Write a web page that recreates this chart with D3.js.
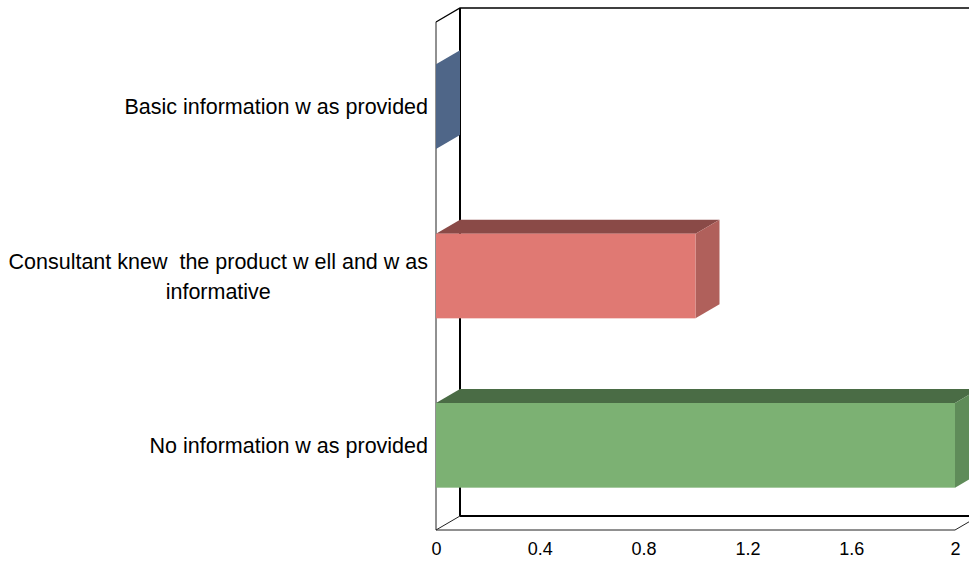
<!DOCTYPE html>
<html>
<head>
<meta charset="utf-8">
<script src="https://cdn.jsdelivr.net/npm/d3@7/dist/d3.min.js"></script>
<style>
  html, body { margin: 0; padding: 0; background: #ffffff; }
  svg { display: block; font-family: "Liberation Sans", Arial, sans-serif; }
  .cat text { white-space: pre; }
</style>
</head>
<body>
<svg id="chart" width="969" height="561"></svg>
<script>
// Survey answers and their counts
const categories = [
  ["Basic information w as provided"],
  ["Consultant knew  the product w ell and w as", "informative"],
  ["No information w as provided"]
];
const values = [0, 1, 2];
const tickValues = [0, 0.4, 0.8, 1.2, 1.6, 2];

// Face colours per bar: front, top, side
const colors = [
  { front: "#4F6688", top: "#3B4D67", side: "#4F6688" },
  { front: "#E07973", top: "#8A4A47", side: "#B0605B" },
  { front: "#7CB173", top: "#4A6C45", side: "#5F8C59" }
];

(function () {
  const svg = d3.select("#chart");
  const W = 969;

  // Front plane of the 3D box and the depth offset of the back wall
  const pl = 436, pr = 955, pt = 22, pb = 530;
  const dx = 24, dy = -14;

  const x = d3.scaleLinear().domain([0, 2]).range([pl, pr]);
  const keys = categories.map((c, i) => i);
  const y = d3.scaleBand().domain(keys).range([pt, pb])
    .paddingInner(0.5).paddingOuter(0.25);

  // Back wall and floor
  const walls = svg.append("g").attr("fill", "none");
  walls.append("path")
    .attr("d", `M${pl},${pt} L${pl + dx},${pt + dy} L${W + 5},${pt + dy}`)
    .attr("stroke", "#000").attr("stroke-width", 1.3);
  walls.append("line")
    .attr("x1", pl + dx).attr("y1", pt + dy).attr("x2", pl + dx).attr("y2", pb + dy)
    .attr("stroke", "#000").attr("stroke-width", 2);
  walls.append("line")
    .attr("x1", pl + dx).attr("y1", pb + dy).attr("x2", W + 5).attr("y2", pb + dy)
    .attr("stroke", "#000").attr("stroke-width", 2);
  walls.append("line")
    .attr("x1", pl).attr("y1", pt).attr("x2", pl).attr("y2", pb)
    .attr("stroke", "#222").attr("stroke-width", 1);
  walls.append("path")
    .attr("d", `M${pl + dx},${pb + dy} L${pl},${pb} L${pr},${pb} L${pr + dx},${pb + dy}`)
    .attr("stroke", "#222").attr("stroke-width", 1);

  // 3D bars
  const bars = svg.append("g");
  keys.forEach(i => {
    const v = values[i];
    const x0 = x(0), x1 = x(v);
    const y0 = y(i), y1 = y(i) + y.bandwidth();
    const c = colors[i];
    const g = bars.append("g");
    if (x1 > x0) {
      g.append("path")
        .attr("d", `M${x0},${y0} L${x0 + dx},${y0 + dy} L${x1 + dx},${y0 + dy} L${x1},${y0} Z`)
        .attr("fill", c.top);
      g.append("path")
        .attr("d", `M${x1},${y0} L${x1 + dx},${y0 + dy} L${x1 + dx},${y1 + dy} L${x1},${y1} Z`)
        .attr("fill", c.side);
      g.append("rect")
        .attr("x", x0).attr("y", y0).attr("width", x1 - x0).attr("height", y1 - y0)
        .attr("fill", c.front);
    } else {
      g.append("path")
        .attr("d", `M${x1},${y0} L${x1 + dx},${y0 + dy} L${x1 + dx},${y1 + dy} L${x1},${y1} Z`)
        .attr("fill", c.side);
    }
  });

  // Category labels
  const labels = svg.append("g").attr("class", "cat").attr("font-size", 21.5).attr("fill", "#000");
  keys.forEach(i => {
    const lines = categories[i];
    const cy = y(i) + y.bandwidth() / 2;
    const lh = 30;
    const t = labels.append("text").attr("text-anchor", "middle");
    const spans = lines.map((ln, j) =>
      t.append("tspan").text(ln)
        .attr("y", cy + (j - (lines.length - 1) / 2) * lh)
        .attr("dy", "0.35em"));
    const w = d3.max(spans, s => s.node().getComputedTextLength());
    spans.forEach(s => s.attr("x", 428 - w / 2));
  });

  // Value axis
  const axis = svg.append("g")
    .attr("transform", `translate(0,${pb})`)
    .attr("font-size", 18)
    .call(d3.axisBottom(x).tickValues(tickValues).tickFormat(d3.format("~g")).tickSize(0).tickPadding(12));
  axis.attr("font-size", 18).attr("font-family", "Liberation Sans, Arial, sans-serif");
  axis.select(".domain").remove();
  axis.selectAll("text").style("font-size", "18px").attr("fill", "#000");
})();
</script>
</body>
</html>
